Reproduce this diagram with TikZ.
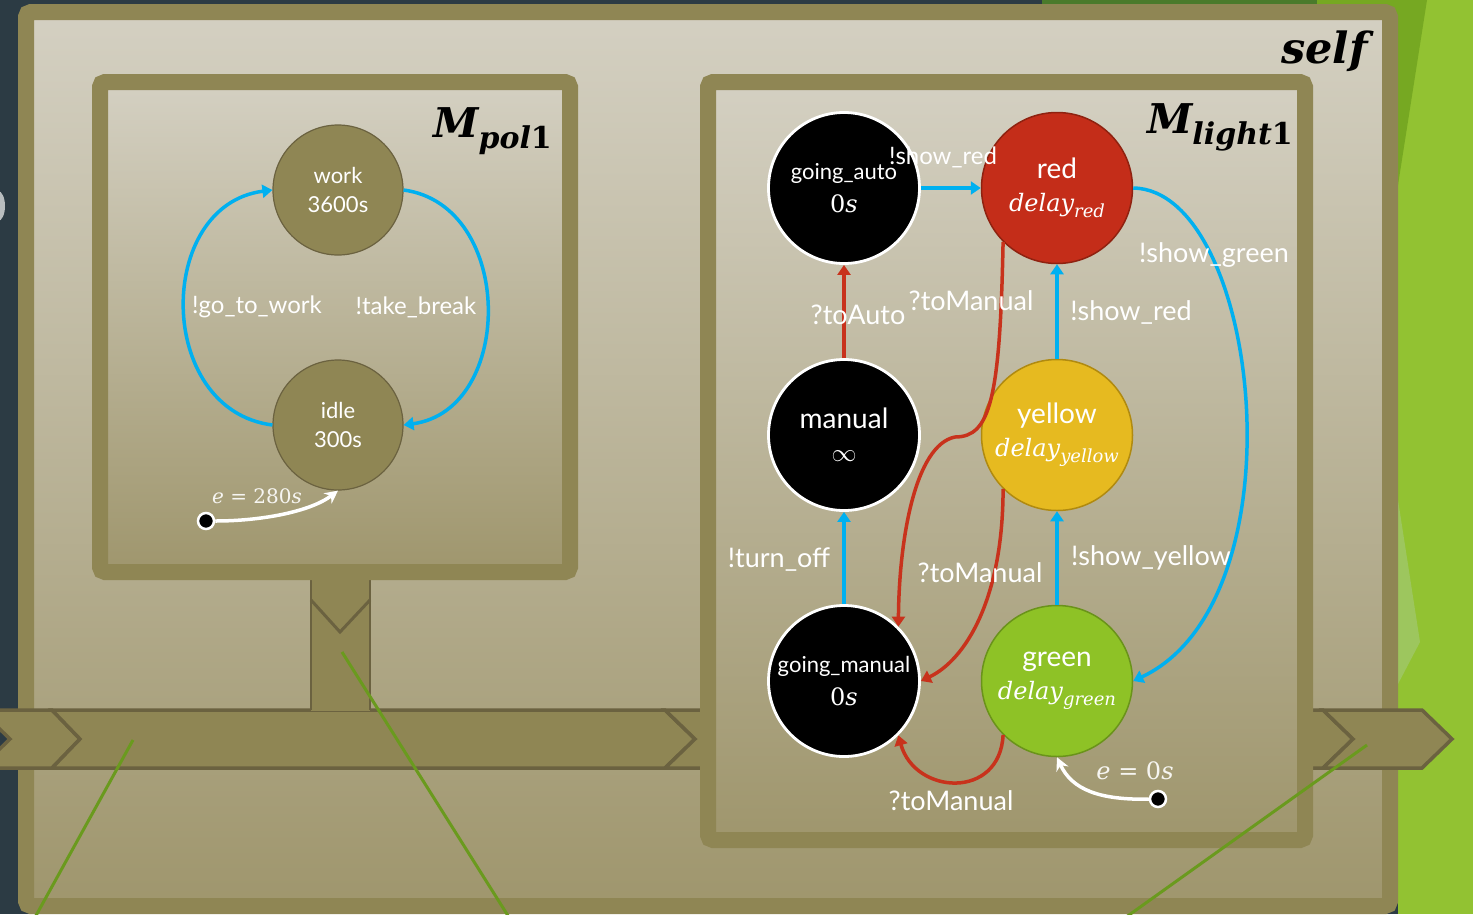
\RequirePackage{fix-cm}
\documentclass[tikz,border=0pt]{standalone}
\usepackage{amsmath}
\usepackage[no-math]{fontspec}
\setmainfont{Lato}
\newfontfamily\dvs{DejaVu Serif}
\usetikzlibrary{arrows.meta}
\definecolor{slate}{HTML}{2C3B44}
\definecolor{olv}{HTML}{8F8654}
\definecolor{olvdark}{HTML}{6B6240}
\definecolor{bgtop}{HTML}{D4D0C2}
\definecolor{bgbot}{HTML}{9F966D}
\definecolor{arrblue}{HTML}{00B0F0}
\definecolor{arrred}{HTML}{C8321C}
\definecolor{nred}{HTML}{C42D19}
\definecolor{nredb}{HTML}{8F2210}
\definecolor{nyellow}{HTML}{E6BA20}
\definecolor{nyellowb}{HTML}{B08A10}
\definecolor{ngreen}{HTML}{8EC226}
\definecolor{ngreenb}{HTML}{6A931A}
\definecolor{linegreen}{HTML}{6A9A1E}
\definecolor{bggreen}{HTML}{92C232}
\definecolor{bgmidgreen}{HTML}{76A822}
\definecolor{bgdkgreen}{HTML}{4A7A2B}
\definecolor{bglight}{HTML}{9DC65E}
\definecolor{glyphgray}{HTML}{B8BDBF}
\newcommand{\zerosec}{{\fontsize{24}{33}\selectfont\dvs 0\itshape s}}
\newcommand{\dlyof}[1]{{\fontsize{24}{33}\selectfont\dvs\itshape delay\raisebox{-6pt}{\fontsize{18}{18}\selectfont #1}}}
\newcommand{\ttl}[2]{{\fontsize{41}{45}\selectfont #1}\raisebox{-11pt}{\fontsize{30}{32}\selectfont #2{\upshape 1}}}
\begin{document}
\begin{tikzpicture}[x=1pt,y=-1pt,
  lbl/.style={text=white,font=\fontsize{27}{30}\selectfont,inner sep=0pt},
  lblsm/.style={text=white,font=\fontsize{24}{28}\selectfont,inner sep=0pt},
  pstate/.style={circle,minimum size=130pt,inner sep=0pt,fill=olv,draw=olvdark,line width=1.2pt,text=white,align=center,font=\fontsize{22}{29}\selectfont},
  lstate/.style={circle,minimum size=151pt,inner sep=0pt,text=white,align=center,font=\fontsize{28}{33}\selectfont},
  blk/.style={lstate,fill=black,draw=white,line width=2.8pt},
  colstate/.style={lstate,line width=1.5pt},
  bluearr/.style={draw=arrblue,line width=3.5pt,-{Triangle[length=10pt,width=13pt]}},
  redarr/.style={draw=arrred,line width=3.5pt,-{Triangle[length=10pt,width=13pt]}},
  initarr/.style={draw=white,line width=3.5pt,-{Stealth[length=13pt,width=13pt]}},
  initdot/.style={circle,fill=black,draw=white,line width=2.5pt,minimum size=16pt,inner sep=0pt},
  boxline/.style={draw=olv,line width=16pt,rounded corners=5pt},
  busseg/.style={fill=olv,draw=olvdark,line width=3.5pt,line join=miter},
  greenline/.style={draw=linegreen,line width=3pt},
  title/.style={anchor=base east,inner sep=0pt,font=\dvs\bfseries\itshape},
  elbl/.style={text=white!92!olv,inner sep=0pt,font=\dvs\itshape}
]
\clip (0,0) rectangle (1473,914);
% background
\fill[slate] (0,0) rectangle (1473,914);
\fill[bggreen] (1398,0) rectangle (1473,914);
\fill[bgmidgreen] (1317,0) -- (1427,0) -- (1398,185) -- (1317,185) -- cycle;
\fill[bgdkgreen] (1042,0) rectangle (1317,10);
\fill[bglight] (1398,500) -- (1420,642) -- (1398,684) -- cycle;
\fill[glyphgray] (-2,206) ellipse [x radius=7, y radius=15];
% self box
\draw[boxline,top color=bgtop,bottom color=bgbot] (26,12) rectangle (1390,906);
% bus segments
\draw[busseg] (-20,710) -- (52,710) -- (80,739) -- (52,768) -- (-20,768) -- (10,739) -- cycle;
\draw[busseg] (52,710) -- (665,710) -- (695,739) -- (665,768) -- (52,768) -- (80,739) -- cycle;
\draw[busseg] (665,710) -- (1323,710) -- (1353,739) -- (1323,768) -- (665,768) -- (695,739) -- cycle;
% connector from Mpol1 to the bus
\fill[olv] (311,578) rectangle (370,711);
\draw[olvdark,line width=2.5pt] (311,580) -- (311,710) (370,580) -- (370,710);
\draw[olvdark,line width=3pt] (311,600) -- (340,632) -- (370,600);
% component boxes
\draw[boxline,top color=bgtop,bottom color=bgbot] (100,82) rectangle (570,572);
\draw[boxline,top color=bgtop,bottom color=bgbot] (708,82) rectangle (1305,840);
% outgoing bus piece
\draw[busseg] (1323,710) -- (1422,710) -- (1452,739) -- (1422,768) -- (1323,768) -- (1353,739) -- cycle;
% titles
\node[title,font=\dvs\bfseries\itshape\fontsize{43}{45}\selectfont] (tself) at (1368,63) {self};
\node[title] (tpol) at (552,137) {\ttl{M}{pol}};
\node[title] (tlight) at (1293,133) {\ttl{M}{light}};
% Mpol1 states
\node[pstate] (work) at (338,190) {work\\3600s};
\node[pstate] (idle) at (338,425) {idle\\300s};
\node[initdot] (d1) at (206,521) {};
\draw[bluearr] (idle.west) .. controls (155,410) and (155,205) .. (work.west);
\draw[bluearr] (work.east) .. controls (515,205) and (515,410) .. (idle.east);
\draw[initarr] (d1) .. controls (260,521) and (310,512) .. (idle.south);
\node[lblsm] (lgo) at (257,307) {!go\_to\_work};
\node[lblsm] (ltake) at (416,307) {!take\_break};
\node[elbl,font=\dvs\itshape\fontsize{20}{24}\selectfont] (le1) at (257,496) {e {\upshape = 280}s};
% Mlight1 states
\node[blk] (gauto) at (844,188) {{\fontsize{22}{33}\selectfont going\_auto}\\\zerosec};
\node[colstate,fill=nred,draw=nredb] (red) at (1057,188) {red\\\dlyof{red}};
\node[blk] (manual) at (844,435) {manual\\{\fontsize{25}{33}\selectfont$\infty$}};
\node[colstate,fill=nyellow,draw=nyellowb] (yellow) at (1057,435) {yellow\\\dlyof{yellow}};
\node[blk] (gman) at (844,681) {{\fontsize{22}{33}\selectfont going\_manual}\\\zerosec};
\node[colstate,fill=ngreen,draw=ngreenb] (green) at (1057,681) {green\\\dlyof{green}};
\node[initdot] (d2) at (1158,799) {};
% Mlight1 transitions
\draw[bluearr] (gauto) -- (red);
\draw[redarr] (manual) -- (gauto);
\draw[bluearr] (gman) -- (manual);
\draw[bluearr] (yellow) -- (red);
\draw[bluearr] (green) -- (yellow);
\draw[bluearr] (red.east) .. controls (1260,190) and (1305,600) .. (green.east);
\draw[redarr] (red.225) .. controls (1000,400) and (990,437) .. (955,437) .. controls (915,445) and (899,540) .. (gman.45);
\draw[redarr] (yellow.225) .. controls (1003,600) and (965,660) .. (gman.east);
\draw[redarr] (green.225) .. controls (1000,800) and (915,795) .. (gman.-45);
\draw[initarr] (d2) .. controls (1100,800) and (1072,790) .. (green.south);
% labels
\node[lblsm] (lsr1) at (943,157) {!show\_red};
\node[lbl] (lauto) at (858,315) {?toAuto};
\node[lbl] (lman1) at (971,301) {?toManual};
\node[lbl] (lsr2) at (1131,312) {!show\_red};
\node[lbl] (lsg) at (1214,255) {!show\_green};
\node[lbl] (loff) at (779,560) {!turn\_off};
\node[lbl] (lman2) at (980,573) {?toManual};
\node[lbl] (lsy) at (1151,558) {!show\_yellow};
\node[lbl] (lman3) at (951,801) {?toManual};
\node[elbl,font=\dvs\itshape\fontsize{24}{28}\selectfont] (le2) at (1135,771) {e {\upshape = 0}s};
% decorative background lines
\draw[greenline] (133,740) -- (28,930);
\draw[greenline] (342,652) -- (517,930);
\draw[greenline] (1367,745) -- (1108,930);
\end{tikzpicture}
\end{document}
